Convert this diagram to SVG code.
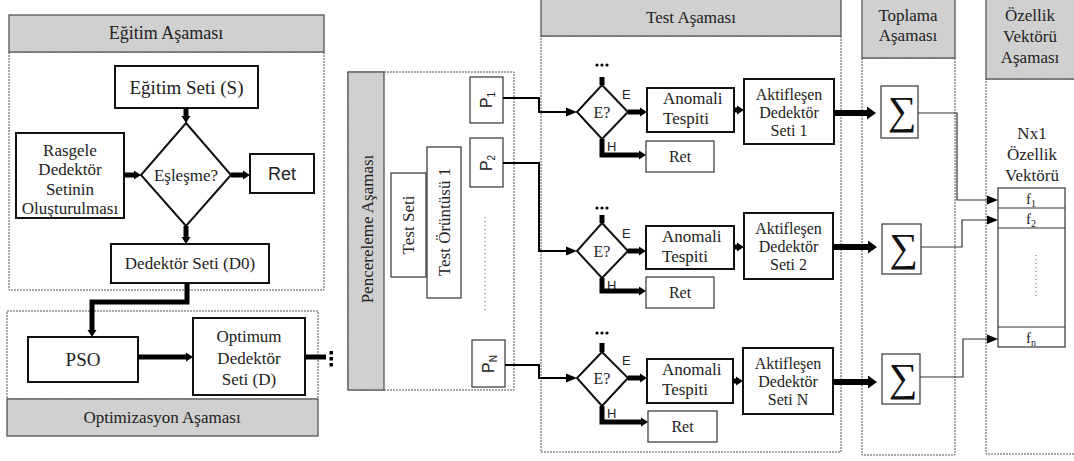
<svg xmlns="http://www.w3.org/2000/svg" width="1074" height="461" viewBox="0 0 1074 461" font-family="'Liberation Serif','DejaVu Serif',serif">
<style>
.sr{font-family:"Liberation Serif","Times New Roman",serif;fill:#222;}
.sans{font-family:"Liberation Sans",Arial,sans-serif;fill:#222;}
.hdr{fill:#d0d0d0;stroke:#555;stroke-width:1.3;}
.dash{fill:none;stroke:#555;stroke-width:1;stroke-dasharray:2 1;}
.bx{fill:#fff;stroke:#111;stroke-width:2;}
.tb{fill:#fff;stroke:#333;stroke-width:1.2;}
.c{text-anchor:middle;}
.thk{fill:none;stroke:#000;stroke-width:5;}
.thn{fill:none;stroke:#000;stroke-width:2;}
.big{fill:none;stroke:#000;stroke-width:6;}
.fl{fill:none;stroke:#333;stroke-width:1.2;}
.sig{font-family:"Liberation Serif","DejaVu Serif",serif;fill:#111;text-anchor:middle;}
</style>
<defs>
<marker id="mT" markerUnits="userSpaceOnUse" markerWidth="7" markerHeight="10" refX="0" refY="5" orient="auto"><path d="M0,0.5 L7,5 L0,9.5 z" fill="#000"/></marker>
<marker id="mB" markerUnits="userSpaceOnUse" markerWidth="9" markerHeight="13" refX="0" refY="6.5" orient="auto"><path d="M0,0 L9,6.5 L0,13 z" fill="#000"/></marker>
<marker id="mN" markerUnits="userSpaceOnUse" markerWidth="11" markerHeight="10" refX="0" refY="5" orient="auto"><path d="M0,0.5 L11,5 L0,9.5 z" fill="#000"/></marker>
</defs>

<!-- Eğitim Aşaması -->
<g id="egitim-asamasi">
<rect class="dash" x="9" y="52" width="315" height="238"/>
<rect class="hdr" x="9" y="15" width="315" height="37"/>
<text class="sr c" x="166" y="39" font-size="18">Eğitim Aşaması</text>
</g>
<g id="egitim-seti">
<rect class="bx" x="115" y="66" width="143" height="42"/>
<text class="sr c" x="186.5" y="94" font-size="19">Eğitim Seti (S)</text>
</g>
<g id="rasgele">
<rect class="bx" x="16" y="133" width="108" height="85"/>
<text class="sr c" x="70" y="156" font-size="17">Rasgele</text>
<text class="sr c" x="70" y="175" font-size="17">Dedektör</text>
<text class="sr c" x="70" y="195" font-size="17">Setinin</text>
<text class="sr c" x="70" y="214" font-size="17">Oluşturulması</text>
</g>
<g id="eslesme">
<polygon class="bx" points="186,123 231,175 186,226 141,175"/>
<text class="sr c" x="186" y="181" font-size="17">Eşleşme?</text>
</g>
<g id="ret-egitim">
<rect class="bx" x="250" y="154" width="64" height="39"/>
<text class="c sans" x="282" y="180" font-size="18">Ret</text>
</g>
<g id="dedektor-seti-d0">
<rect class="bx" x="111" y="244" width="158" height="39"/>
<text class="sr c" x="190" y="269" font-size="17">Dedektör Seti (D0)</text>
</g>

<!-- Optimizasyon -->
<g id="optimizasyon-asamasi">
<rect class="dash" x="7" y="311" width="311" height="88"/>
<rect class="hdr" x="7" y="399" width="311" height="37"/>
<text class="sr c" x="162" y="423" font-size="17">Optimizasyon Aşaması</text>
</g>
<g id="pso">
<rect class="bx" x="28" y="337" width="110" height="45"/>
<text class="sr c" x="83" y="366" font-size="19">PSO</text>
</g>
<g id="optimum">
<rect class="bx" x="193" y="318" width="112" height="77"/>
<text class="sr c" x="249" y="342" font-size="17">Optimum</text>
<text class="sr c" x="249" y="364" font-size="17">Dedektör</text>
<text class="sr c" x="249" y="385" font-size="17">Seti (D)</text>
</g>

<!-- Pencereleme -->
<g id="pencereleme-asamasi">
<rect class="dash" x="348" y="72" width="166" height="318"/>
<rect class="hdr" x="348" y="72" width="36" height="318"/>
<text class="sr c" transform="translate(373,229) rotate(-90)" font-size="17">Pencereleme Aşaması</text>
<line x1="485" y1="217" x2="485" y2="310" stroke="#666" stroke-width="1" stroke-dasharray="1 3"/>
</g>
<g id="test-seti">
<rect class="tb" x="391" y="173" width="35" height="104"/>
<text class="sr c" transform="translate(414,225) rotate(-90)" font-size="17">Test Seti</text>
</g>
<g id="test-oruntusu">
<rect class="tb" x="427" y="147" width="34" height="151"/>
<text class="sr c" transform="translate(450,222) rotate(-90)" font-size="17">Test Örüntüsü 1</text>
</g>
<g id="p1">
<rect class="tb" x="470" y="77" width="33" height="46"/>
<text class="c sans" transform="translate(492,100) rotate(-90)" font-size="16">P<tspan font-size="10" dy="3">1</tspan></text>
</g>
<g id="p2">
<rect class="tb" x="470" y="138" width="33" height="49"/>
<text class="c sans" transform="translate(492,163) rotate(-90)" font-size="16">P<tspan font-size="10" dy="3">2</tspan></text>
</g>
<g id="pn">
<rect class="tb" x="472" y="340" width="33" height="47"/>
<text class="c sans" transform="translate(494,364) rotate(-90)" font-size="16">P<tspan font-size="10" dy="3">N</tspan></text>
</g>

<!-- Test Aşaması -->
<g id="test-asamasi">
<rect class="dash" x="541" y="36" width="300" height="416"/>
<rect class="hdr" x="541" y="-1" width="300" height="37"/>
<text class="sr c" x="691" y="23" font-size="17">Test Aşaması</text>
</g>

<g id="row1">
<g fill="#000"><circle cx="597" cy="65" r="1.6"/><circle cx="602" cy="65" r="1.6"/><circle cx="607" cy="65" r="1.6"/></g>
<polygon class="bx" points="602,85 628,112 602,139 577,112"/>
<text class="sr c" x="602" y="118" font-size="16">E?</text>
<text class="sans" x="622" y="99" font-size="13">E</text>
<text class="sans" x="607" y="151" font-size="13">H</text>
</g>
<g id="anomali1"><rect class="bx" x="647" y="88" width="87" height="44"/>
<text class="sr" x="663" y="104" font-size="17">Anomali</text><text class="sr" x="663" y="124" font-size="17">Tespiti</text></g>
<g id="aktif1"><rect class="bx" x="744" y="79" width="90" height="65"/>
<text class="sr c" x="789" y="100" font-size="16">Aktifleşen</text><text class="sr c" x="789" y="118" font-size="16">Dedektör</text><text class="sr c" x="789" y="136" font-size="16">Seti 1</text></g>
<g id="ret1"><rect class="tb" x="646" y="141" width="68" height="31"/><text class="sr c" x="680" y="162" font-size="16">Ret</text></g>

<g id="row2">
<g fill="#000"><circle cx="597" cy="208" r="1.6"/><circle cx="602" cy="208" r="1.6"/><circle cx="607" cy="208" r="1.6"/></g>
<polygon class="bx" points="602,223 628,251 602,278 577,251"/>
<text class="sr c" x="602" y="257" font-size="16">E?</text>
<text class="sans" x="622" y="238" font-size="13">E</text>
<text class="sans" x="607" y="290" font-size="13">H</text>
</g>
<g id="anomali2"><rect class="bx" x="646" y="226" width="88" height="43"/>
<text class="sr" x="662" y="242" font-size="17">Anomali</text><text class="sr" x="662" y="262" font-size="17">Tespiti</text></g>
<g id="aktif2"><rect class="bx" x="744" y="213" width="89" height="66"/>
<text class="sr c" x="788.5" y="234" font-size="16">Aktifleşen</text><text class="sr c" x="788.5" y="252" font-size="16">Dedektör</text><text class="sr c" x="788.5" y="270" font-size="16">Seti 2</text></g>
<g id="ret2"><rect class="tb" x="646" y="277" width="68" height="31"/><text class="sr c" x="680" y="298" font-size="16">Ret</text></g>

<g id="row3">
<g fill="#000"><circle cx="597" cy="333" r="1.6"/><circle cx="602" cy="333" r="1.6"/><circle cx="607" cy="333" r="1.6"/></g>
<polygon class="bx" points="602,352 628,378 602,406 577,378"/>
<text class="sr c" x="602" y="384" font-size="16">E?</text>
<text class="sans" x="622" y="365" font-size="13">E</text>
<text class="sans" x="607" y="418" font-size="13">H</text>
</g>
<g id="anomali3"><rect class="bx" x="647" y="359" width="86" height="44"/>
<text class="sr" x="662" y="375" font-size="17">Anomali</text><text class="sr" x="662" y="395" font-size="17">Tespiti</text></g>
<g id="aktifN"><rect class="bx" x="743" y="348" width="90" height="66"/>
<text class="sr c" x="788" y="369" font-size="16">Aktifleşen</text><text class="sr c" x="788" y="387" font-size="16">Dedektör</text><text class="sr c" x="788" y="405" font-size="16">Seti N</text></g>
<g id="ret3"><rect class="tb" x="648" y="411" width="69" height="31"/><text class="sr c" x="682.5" y="432" font-size="16">Ret</text></g>

<!-- Toplama -->
<g id="toplama-asamasi">
<rect class="dash" x="862" y="58" width="93" height="397"/>
<rect class="hdr" x="862" y="-1" width="93" height="59"/>
<text class="sr c" x="908" y="21" font-size="17">Toplama</text>
<text class="sr c" x="908" y="41" font-size="17">Aşaması</text>
</g>
<g id="sum1"><rect class="tb" x="881" y="86" width="37" height="52"/><text class="sig" x="902" y="124" font-size="40">∑</text></g>
<g id="sum2"><rect class="tb" x="882" y="224" width="39" height="50"/><text class="sig" x="903.5" y="261" font-size="40">∑</text></g>
<g id="sum3"><rect class="tb" x="882" y="354" width="38" height="50"/><text class="sig" x="903" y="391" font-size="40">∑</text></g>

<!-- Özellik Vektörü -->
<g id="ozellik-asamasi">
<rect class="dash" x="986" y="79" width="92" height="375"/>
<rect class="hdr" x="986" y="-1" width="92" height="80"/>
<text class="sr c" x="1030" y="21" font-size="17">Özellik</text>
<text class="sr c" x="1030" y="42" font-size="17">Vektörü</text>
<text class="sr c" x="1030" y="63" font-size="17">Aşaması</text>
<text class="sr c" x="1032" y="139" font-size="17">Nx1</text>
<text class="sr c" x="1032" y="160" font-size="17">Özellik</text>
<text class="sr c" x="1032" y="181" font-size="17">Vektörü</text>
</g>
<g id="vektor">
<rect class="tb" x="998" y="188" width="67" height="159"/>
<line x1="998" y1="208" x2="1065" y2="208" stroke="#333" stroke-width="1.2"/>
<line x1="998" y1="228" x2="1065" y2="228" stroke="#333" stroke-width="1.2"/>
<line x1="998" y1="327" x2="1065" y2="327" stroke="#333" stroke-width="1.2"/>
<line x1="1036" y1="255" x2="1036" y2="297" stroke="#666" stroke-width="1" stroke-dasharray="1 3"/>
<text class="sr c" x="1031" y="204" font-size="15">f<tspan font-size="10" dy="3">1</tspan></text>
<text class="sr c" x="1031" y="224" font-size="15">f<tspan font-size="10" dy="3">2</tspan></text>
<text class="sr c" x="1031" y="343" font-size="15">f<tspan font-size="10" dy="3">n</tspan></text>
</g>

<!-- Connectors -->
<g id="connectors">
<path class="thk" d="M186,108 V116" marker-end="url(#mT)"/>
<path class="thk" d="M124,175 H134" marker-end="url(#mT)"/>
<path class="thk" d="M231,175 H243" marker-end="url(#mT)"/>
<path class="thk" d="M186,226 V237" marker-end="url(#mT)"/>
<path class="thk" d="M187,283 V302 H92 V330" marker-end="url(#mT)"/>
<path class="thk" d="M138,357 H186" marker-end="url(#mT)"/>
<path class="thk" d="M305,357 H326"/>
<g fill="#000"><rect x="329.5" y="351" width="3.5" height="3.5"/><rect x="329.5" y="357" width="3.5" height="3.5"/><rect x="329.5" y="363" width="3.5" height="3.5"/></g>

<path class="thn" d="M503,98 H539 V112 H566" marker-end="url(#mN)"/>
<path class="thn" d="M503,163 H539 V251 H566" marker-end="url(#mN)"/>
<path class="thn" d="M505,365 H539 V378 H566" marker-end="url(#mN)"/>

<path class="thk" stroke-width="4" d="M602,77 V85"/>
<path class="thk" stroke-width="4" d="M628,112 H640" marker-end="url(#mT)"/>
<path class="thk" stroke-width="3" d="M734,110 H737" marker-end="url(#mT)"/>
<path class="thk" stroke-width="4" d="M602,139 V155 H639" marker-end="url(#mT)"/>
<path class="big" d="M834,113 H867" marker-end="url(#mB)"/>

<path class="thk" stroke-width="4" d="M602,215 V223"/>
<path class="thk" stroke-width="4" d="M628,251 H639" marker-end="url(#mT)"/>
<path class="thk" stroke-width="3" d="M734,247 H737" marker-end="url(#mT)"/>
<path class="thk" stroke-width="4" d="M602,278 V291 H639" marker-end="url(#mT)"/>
<path class="big" d="M833,247 H868" marker-end="url(#mB)"/>

<path class="thk" stroke-width="4" d="M602,343 V352"/>
<path class="thk" stroke-width="4" d="M628,378 H640" marker-end="url(#mT)"/>
<path class="thk" stroke-width="3" d="M733,381 H736" marker-end="url(#mT)"/>
<path class="thk" stroke-width="4" d="M602,406 V422 H641" marker-end="url(#mT)"/>
<path class="big" d="M833,382 H868" marker-end="url(#mB)"/>

<path class="fl" d="M918,113 H957 V200 H987" marker-end="url(#mN)"/>
<path class="fl" d="M921,247 H962 V220 H987" marker-end="url(#mN)"/>
<path class="fl" d="M920,377 H963 V339 H987" marker-end="url(#mN)"/>
</g>
</svg>
